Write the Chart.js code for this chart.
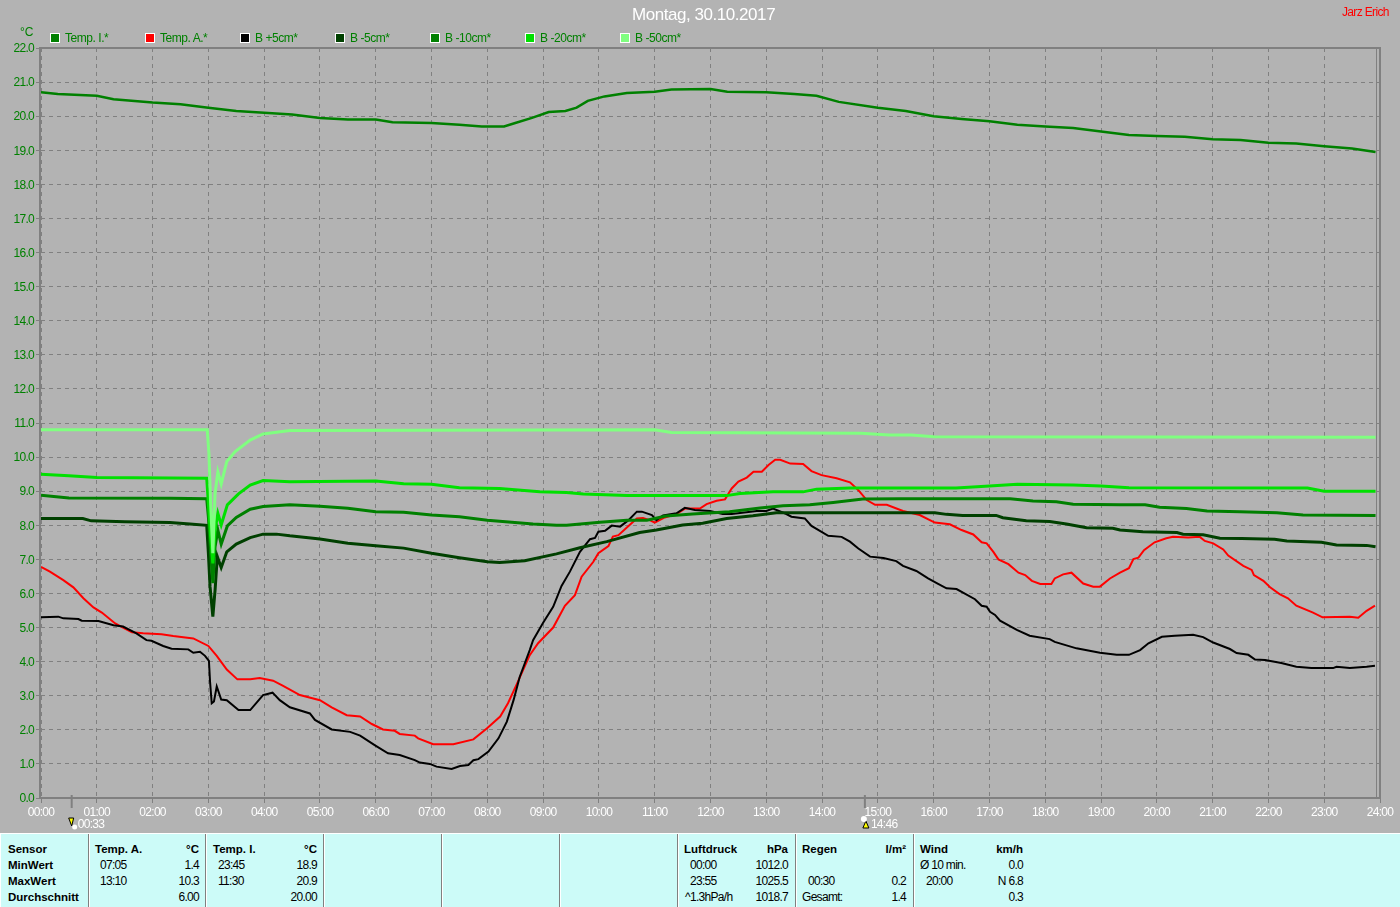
<!DOCTYPE html>
<html><head><meta charset="utf-8">
<script src="https://cdn.jsdelivr.net/npm/chart.js@4"></script>
<style>
html,body{margin:0;padding:0;background:#b3b3b3;overflow:hidden}
#wrap{position:relative;width:1400px;height:907px;font-family:"Liberation Sans",Arial,sans-serif;font-size:12px;letter-spacing:-.7px}
canvas{position:absolute;left:0;top:0}
.t{position:absolute;white-space:nowrap;line-height:14px}
.sq{position:absolute;width:8px;height:8px;border:1px solid #fff;top:33px}
#panel{position:absolute;left:0;top:833px;width:1400px;height:73px;background:#ccfbf8;color:#000;border-top:1px solid #fff;box-shadow:inset 1px 0 #fff}
.sep{position:absolute;top:0;width:1px;height:73px;background:#808080;border-right:1px solid #fff}
.b{font-weight:bold;font-size:11.5px;letter-spacing:0}
</style></head><body>
<div id="wrap">
<canvas id="c" width="1400" height="834"></canvas>
<div class="t" style="left:632px;top:6px;color:#fff;font-size:17px;line-height:18px;letter-spacing:-.45px">Montag, 30.10.2017</div>
<div class="t" style="left:1342px;top:5px;color:#f00;font-size:12px;letter-spacing:-.65px">Jarz Erich</div>
<div class="t" style="left:20px;top:25px;color:#008000;font-size:12px;letter-spacing:0">°C</div>
<div id="legend"></div>
<div id="panel"></div>
</div>
<script>
const hourTicks=["00:00","01:00","02:00","03:00","04:00","05:00","06:00","07:00","08:00","09:00","10:00","11:00","12:00","13:00","14:00","15:00","16:00","17:00","18:00","19:00","20:00","21:00","22:00","23:00","24:00"];
const seriesNames=["Temp. I.*","Temp. A.*","B +5cm*","B -5cm*","B -10cm*","B -20cm*","B -50cm*"];
const seriesColors=["#008000","#ff0000","#000000","#004000","#008000","#00e000","#80ff80"];
const seriesWidths=[2.5,2,2,3,3,3,3];
const sunEvents=[[0.55,"00:33"],[14.767,"14:46"]];
const lastSample=23.92;

const tempI=[[0,20.7],[0.3,20.65],[1,20.6],[1.3,20.5],[2,20.4],[2.5,20.35],[3,20.25],[3.5,20.15],[4,20.1],[4.5,20.05],[5,19.95],[5.5,19.9],[6,19.9],[6.3,19.82],[7,19.8],[7.5,19.75],[7.9,19.7],[8.3,19.7],[8.5,19.8],[8.8,19.95],[9.1,20.12],[9.4,20.15],[9.6,20.25],[9.8,20.45],[10.1,20.58],[10.5,20.68],[11,20.72],[11.3,20.78],[12,20.8],[12.3,20.72],[13,20.7],[13.5,20.65],[13.9,20.6],[14.3,20.42],[15,20.25],[15.5,20.15],[16,20],[16.5,19.92],[17,19.85],[17.5,19.75],[18,19.7],[18.5,19.65],[19,19.55],[19.5,19.45],[20,19.42],[20.5,19.4],[21,19.32],[21.5,19.3],[22,19.22],[22.5,19.2],[23,19.12],[23.5,19.05],[23.92,18.95]];
const tempA=[[0,6.78],[0.16,6.64],[0.4,6.39],[0.58,6.18],[0.76,5.86],[0.94,5.59],[1.09,5.44],[1.33,5.12],[1.47,5],[1.63,4.86],[1.83,4.83],[2.16,4.8],[2.37,4.75],[2.73,4.68],[3,4.46],[3.15,4.17],[3.33,3.77],[3.52,3.48],[3.75,3.48],[3.92,3.52],[4.16,3.44],[4.34,3.29],[4.64,3.02],[5,2.87],[5.21,2.66],[5.48,2.43],[5.72,2.39],[5.93,2.17],[6.13,2.01],[6.34,1.97],[6.43,1.88],[6.7,1.83],[6.76,1.75],[7.03,1.58],[7.39,1.58],[7.75,1.72],[7.99,2.04],[8.23,2.39],[8.37,2.78],[8.52,3.31],[8.64,3.75],[8.76,4.19],[8.91,4.54],[9.18,5],[9.39,5.64],[9.57,5.95],[9.69,6.49],[9.9,6.93],[9.99,7.18],[10.17,7.39],[10.25,7.67],[10.35,7.71],[10.53,7.98],[10.68,8.2],[10.79,8.21],[10.91,8.15],[11,8.08],[11.18,8.23],[11.39,8.33],[11.54,8.49],[11.81,8.49],[11.93,8.62],[12.11,8.72],[12.26,8.76],[12.38,9.08],[12.5,9.28],[12.65,9.4],[12.77,9.57],[12.92,9.57],[13.04,9.77],[13.16,9.92],[13.25,9.92],[13.43,9.81],[13.66,9.8],[13.81,9.59],[13.99,9.47],[14.26,9.38],[14.5,9.26],[14.65,9.03],[14.8,8.74],[14.95,8.6],[15.16,8.6],[15.45,8.42],[15.75,8.3],[16.02,8.08],[16.29,8.03],[16.5,7.86],[16.71,7.73],[16.86,7.5],[16.95,7.47],[17.07,7.22],[17.16,7],[17.34,6.86],[17.52,6.61],[17.64,6.54],[17.76,6.37],[17.91,6.28],[18.11,6.28],[18.17,6.44],[18.32,6.56],[18.47,6.61],[18.68,6.29],[18.86,6.2],[18.98,6.2],[19.16,6.44],[19.34,6.61],[19.5,6.74],[19.58,7.01],[19.67,7.05],[19.77,7.27],[19.96,7.5],[20.17,7.62],[20.29,7.66],[20.56,7.64],[20.77,7.66],[20.86,7.54],[21.01,7.47],[21.19,7.29],[21.28,7.11],[21.55,6.81],[21.7,6.69],[21.74,6.54],[21.91,6.37],[22.03,6.18],[22.2,5.98],[22.35,5.86],[22.5,5.64],[22.8,5.44],[22.97,5.3],[23.46,5.32],[23.61,5.29],[23.76,5.49],[23.91,5.64]];
const bPlus5=[[0,5.3],[0.31,5.32],[0.4,5.27],[0.67,5.25],[0.73,5.2],[1.03,5.19],[1.3,5.07],[1.47,5.03],[1.71,4.83],[1.89,4.63],[1.98,4.61],[2.19,4.46],[2.34,4.38],[2.64,4.36],[2.73,4.26],[2.85,4.29],[2.94,4.17],[3.01,4.02],[3.03,3.41],[3.06,2.78],[3.1,2.83],[3.15,3.27],[3.23,2.89],[3.33,2.87],[3.54,2.58],[3.75,2.58],[3.98,3.02],[4.15,3.09],[4.28,2.87],[4.46,2.66],[4.82,2.48],[4.91,2.29],[5.21,2.01],[5.54,1.94],[5.72,1.83],[5.98,1.55],[6.22,1.31],[6.43,1.26],[6.7,1.11],[6.79,1.04],[6.97,1],[7.09,0.92],[7.36,0.85],[7.51,0.94],[7.66,0.97],[7.75,1.11],[7.84,1.14],[8.02,1.36],[8.2,1.75],[8.35,2.24],[8.47,2.87],[8.58,3.55],[8.76,4.34],[8.82,4.63],[9,5.14],[9.18,5.61],[9.33,6.22],[9.48,6.64],[9.66,7.22],[9.84,7.59],[9.93,7.63],[9.99,7.81],[10.11,7.84],[10.23,7.99],[10.38,7.96],[10.53,8.15],[10.68,8.4],[10.77,8.4],[10.95,8.3],[11.03,8.15],[11.15,8.29],[11.39,8.35],[11.54,8.51],[11.72,8.45],[11.99,8.42],[12.22,8.33],[12.38,8.33],[12.83,8.42],[13,8.42],[13.12,8.49],[13.36,8.33],[13.45,8.25],[13.69,8.2],[13.81,7.98],[14.11,7.69],[14.35,7.66],[14.5,7.52],[14.65,7.32],[14.86,7.08],[15.1,7.04],[15.33,6.95],[15.45,6.81],[15.69,6.66],[15.9,6.44],[16.08,6.28],[16.23,6.15],[16.41,6.13],[16.74,5.83],[16.86,5.64],[16.95,5.61],[17.01,5.46],[17.1,5.37],[17.19,5.2],[17.49,4.93],[17.72,4.76],[18.08,4.66],[18.17,4.58],[18.56,4.39],[18.98,4.26],[19.28,4.2],[19.5,4.2],[19.7,4.34],[19.85,4.54],[20.09,4.73],[20.32,4.76],[20.65,4.79],[20.83,4.72],[21.01,4.56],[21.31,4.37],[21.43,4.25],[21.64,4.2],[21.76,4.06],[21.94,4.05],[22.23,3.96],[22.5,3.85],[22.77,3.81],[23.16,3.81],[23.22,3.85],[23.46,3.81],[23.76,3.85],[23.91,3.88]];
const bMinus5=[[0,8.2],[0.75,8.2],[0.9,8.13],[1.5,8.1],[2.31,8.08],[2.67,8.04],[2.97,8],[3,7.18],[3.03,6.2],[3.08,5.32],[3.12,6.1],[3.16,7.08],[3.23,6.76],[3.33,7.22],[3.5,7.45],[3.75,7.64],[3.98,7.74],[4.22,7.74],[4.46,7.69],[5,7.6],[5.5,7.47],[6,7.4],[6.5,7.33],[7,7.18],[7.5,7.05],[8,6.93],[8.22,6.91],[8.67,6.96],[9.24,7.16],[9.66,7.34],[10.14,7.52],[10.73,7.79],[11.03,7.86],[11.5,8.01],[11.86,8.06],[12.29,8.2],[12.76,8.28],[13.18,8.37],[16.02,8.37],[16.23,8.32],[16.52,8.29],[17.12,8.29],[17.24,8.22],[17.66,8.13],[18.08,8.11],[18.38,8.04],[18.74,7.93],[19.21,7.91],[19.34,7.86],[19.75,7.81],[20.36,7.79],[20.47,7.74],[20.83,7.72],[21.13,7.62],[21.52,7.61],[22.11,7.59],[22.33,7.54],[22.95,7.5],[23.22,7.42],[23.76,7.41],[23.92,7.37]];
const bMinus10=[[0,8.88],[0.5,8.8],[2.31,8.79],[2.97,8.78],[3,8.25],[3.04,7.18],[3.08,6.3],[3.12,7.37],[3.17,7.86],[3.23,7.45],[3.34,7.98],[3.5,8.23],[3.75,8.47],[3.98,8.55],[4.46,8.6],[5,8.56],[5.5,8.5],[6,8.4],[6.5,8.38],[7,8.3],[7.5,8.25],[8,8.15],[8.22,8.12],[8.82,8.04],[9.24,8],[9.42,8],[10.02,8.09],[10.5,8.15],[10.86,8.15],[11.2,8.27],[11.68,8.33],[12.34,8.4],[12.89,8.51],[13.3,8.57],[13.78,8.6],[14.2,8.67],[14.73,8.77],[15.4,8.78],[17.37,8.78],[17.78,8.71],[18.2,8.69],[18.5,8.62],[19.34,8.6],[19.79,8.6],[20.05,8.53],[20.53,8.49],[20.9,8.42],[21.49,8.4],[22.15,8.37],[22.62,8.3],[23.92,8.29]];
const bMinus20=[[0,9.5],[0.5,9.45],[1,9.4],[2.97,9.38],[3,8.64],[3.04,7.66],[3.08,6.88],[3.12,7.86],[3.17,8.35],[3.23,8.01],[3.34,8.6],[3.54,8.92],[3.75,9.18],[3.98,9.31],[4.46,9.28],[6,9.3],[6.5,9.22],[7,9.2],[7.5,9.1],[8.22,9.08],[8.94,8.98],[9.42,8.96],[9.72,8.92],[10.5,8.87],[12.29,8.87],[12.53,8.93],[13.12,8.98],[13.66,8.98],[13.9,9.06],[14.5,9.09],[16.4,9.09],[17,9.15],[17.5,9.2],[18.5,9.18],[19,9.15],[19.5,9.1],[22.7,9.09],[23,9],[23.92,9]];
const bMinus50=[[0,10.8],[2.98,10.8],[3.01,10.1],[3.04,8.65],[3.08,7.18],[3.12,8.94],[3.17,9.57],[3.23,9.21],[3.33,9.87],[3.48,10.16],[3.75,10.5],[3.98,10.68],[4.46,10.78],[11,10.8],[11.3,10.72],[14.7,10.7],[15.2,10.65],[15.6,10.65],[16,10.6],[23.92,10.58]];
const seriesData=[tempI,tempA,bPlus5,bMinus5,bMinus10,bMinus20,bMinus50];

const panelLeft=[[8,849,"Sensor",1],[8,865,"MinWert",1],[8,881,"MaxWert",1],[8,897,"Durchschnitt",1],
 [95,849,"Temp. A.",1],[100,865,"07:05"],[100,881,"13:10"],
 [213,849,"Temp. I.",1],[218,865,"23:45"],[218,881,"11:30"],
 [684,849,"Luftdruck",1],[690,865,"00:00"],[690,881,"23:55"],[685,897,"^1.3hPa/h"],
 [802,849,"Regen",1],[808,881,"00:30"],[802,897,"Gesamt:"],
 [920,849,"Wind",1],[920,865,"Ø 10 min."],[926,881,"20:00"]];
const panelRight=[[199,849,"°C",1],[199,865,"1.4"],[199,881,"10.3"],[199,897,"6.00"],
 [317,849,"°C",1],[317,865,"18.9"],[317,881,"20.9"],[317,897,"20.00"],
 [788,849,"hPa",1],[788,865,"1012.0"],[788,881,"1025.5"],[788,897,"1018.7"],
 [906,849,"l/m²",1],[906,881,"0.2"],[906,897,"1.4"],
 [1023,849,"km/h",1],[1023,865,"0.0"],[1023,881,"N 6.8"],[1023,897,"0.3"]];
const panelSeps=[88,205,323,441,559,677,795,913];

const panel=document.getElementById('panel');
panelSeps.forEach(x=>{const d=document.createElement('div');d.className='sep';d.style.left=x+'px';panel.appendChild(d);});
panelLeft.forEach(r=>{const d=document.createElement('div');d.className='t'+(r[3]?' b':'');d.style.left=r[0]+'px';d.style.top=(r[1]-834-7)+'px';d.textContent=r[2];panel.appendChild(d);});
panelRight.forEach(r=>{const d=document.createElement('div');d.className='t'+(r[3]?' b':'');d.style.right=(1400-r[0])+'px';d.style.top=(r[1]-834-7)+'px';d.textContent=r[2];panel.appendChild(d);});
const lg=document.getElementById('legend');
seriesNames.forEach((n,i)=>{const x=50+95*i;
 const s=document.createElement('div');s.className='sq';s.style.left=x+'px';s.style.background=seriesColors[i];lg.appendChild(s);
 const t=document.createElement('div');t.className='t';t.style.cssText+='left:'+(x+15)+'px;top:31px;color:#008000;font-size:12px;letter-spacing:-.45px';t.textContent=n;lg.appendChild(t);});

const frame={id:'frame',
 beforeDraw(ch){ch.ctx.letterSpacing='-0.7px';},
 afterDraw(ch){const {ctx,chartArea:a,scales:{x}}=ch;ctx.save();
  ctx.strokeStyle='#808080';ctx.lineWidth=1;ctx.beginPath();
  const l=Math.round(x.getPixelForValue(lastSample))+.5;ctx.moveTo(l,a.top);ctx.lineTo(l,a.bottom);ctx.stroke();
  ctx.lineWidth=2;ctx.strokeRect(a.left-1,a.top,a.right-a.left+1,a.bottom-a.top);
  sunEvents.forEach((e,i)=>{const p=x.getPixelForValue(e[0]);
   ctx.fillStyle='#808080';ctx.fillRect(p-1,a.bottom-3,2,13);
   ctx.fillStyle='#fff';ctx.font='12px "Liberation Sans"';ctx.textAlign='left';ctx.textBaseline='middle';
   ctx.fillText(e[1],p+6,a.bottom+26.5);
   ctx.fillStyle='#ffff00';ctx.strokeStyle='#000';ctx.lineWidth=1;ctx.beginPath();
   if(i==0){ctx.moveTo(p-3,a.bottom+20);ctx.lineTo(p+2,a.bottom+20);ctx.lineTo(p,a.bottom+28);}
   else{ctx.moveTo(p-2,a.bottom+30);ctx.lineTo(p+4,a.bottom+30);ctx.lineTo(p+1,a.bottom+23);}
   ctx.closePath();ctx.fill();ctx.stroke();
   ctx.fillStyle='#fff';ctx.beginPath();
   if(i==0)ctx.arc(p+3,a.bottom+29,2.5,0,7);else ctx.arc(p-1,a.bottom+21,3,0,7);ctx.fill();
  });ctx.restore();}};

new Chart(document.getElementById('c'),{type:'line',
 data:{datasets:seriesNames.map((n,i)=>({label:n,data:seriesData[i].map(p=>({x:p[0],y:p[1]})),borderColor:seriesColors[i],backgroundColor:seriesColors[i],borderWidth:seriesWidths[i],pointRadius:0,tension:0,fill:false,order:6-i,borderJoinStyle:'miter'}))},
 plugins:[frame],
 options:{responsive:false,animation:false,devicePixelRatio:1,events:[],
  layout:{padding:{top:48,right:20,left:0,bottom:0}},
  plugins:{legend:{display:false},title:{display:false},tooltip:{enabled:false}},
  scales:{
   x:{type:'linear',min:0,max:24,afterFit(s){s.height=36;},
    afterBuildTicks(s){s.ticks=hourTicks.map((_,i)=>({value:i}));},
    grid:{color:'#808080',tickLength:5,tickColor:'#808080',lineWidth:1},border:{display:false,dash:[4,4]},
    ticks:{color:'#ffffff',font:{family:'"Liberation Sans"',size:12},padding:2,autoSkip:false,maxRotation:0,callback:(v)=>hourTicks[v]}},
   y:{type:'linear',min:0,max:22,afterFit(s){s.width=41;},
    afterBuildTicks(s){s.ticks=Array.from({length:23},(_,i)=>({value:i}));},
    grid:{color:'#808080',tickLength:5,tickColor:'#808080',lineWidth:1},border:{display:false,dash:[4,4]},
    ticks:{color:'#008000',font:{family:'"Liberation Sans"',size:12},padding:2,labelOffset:1,autoSkip:false,callback:(v)=>v.toFixed(1)}}
  }}});
</script></body></html>
